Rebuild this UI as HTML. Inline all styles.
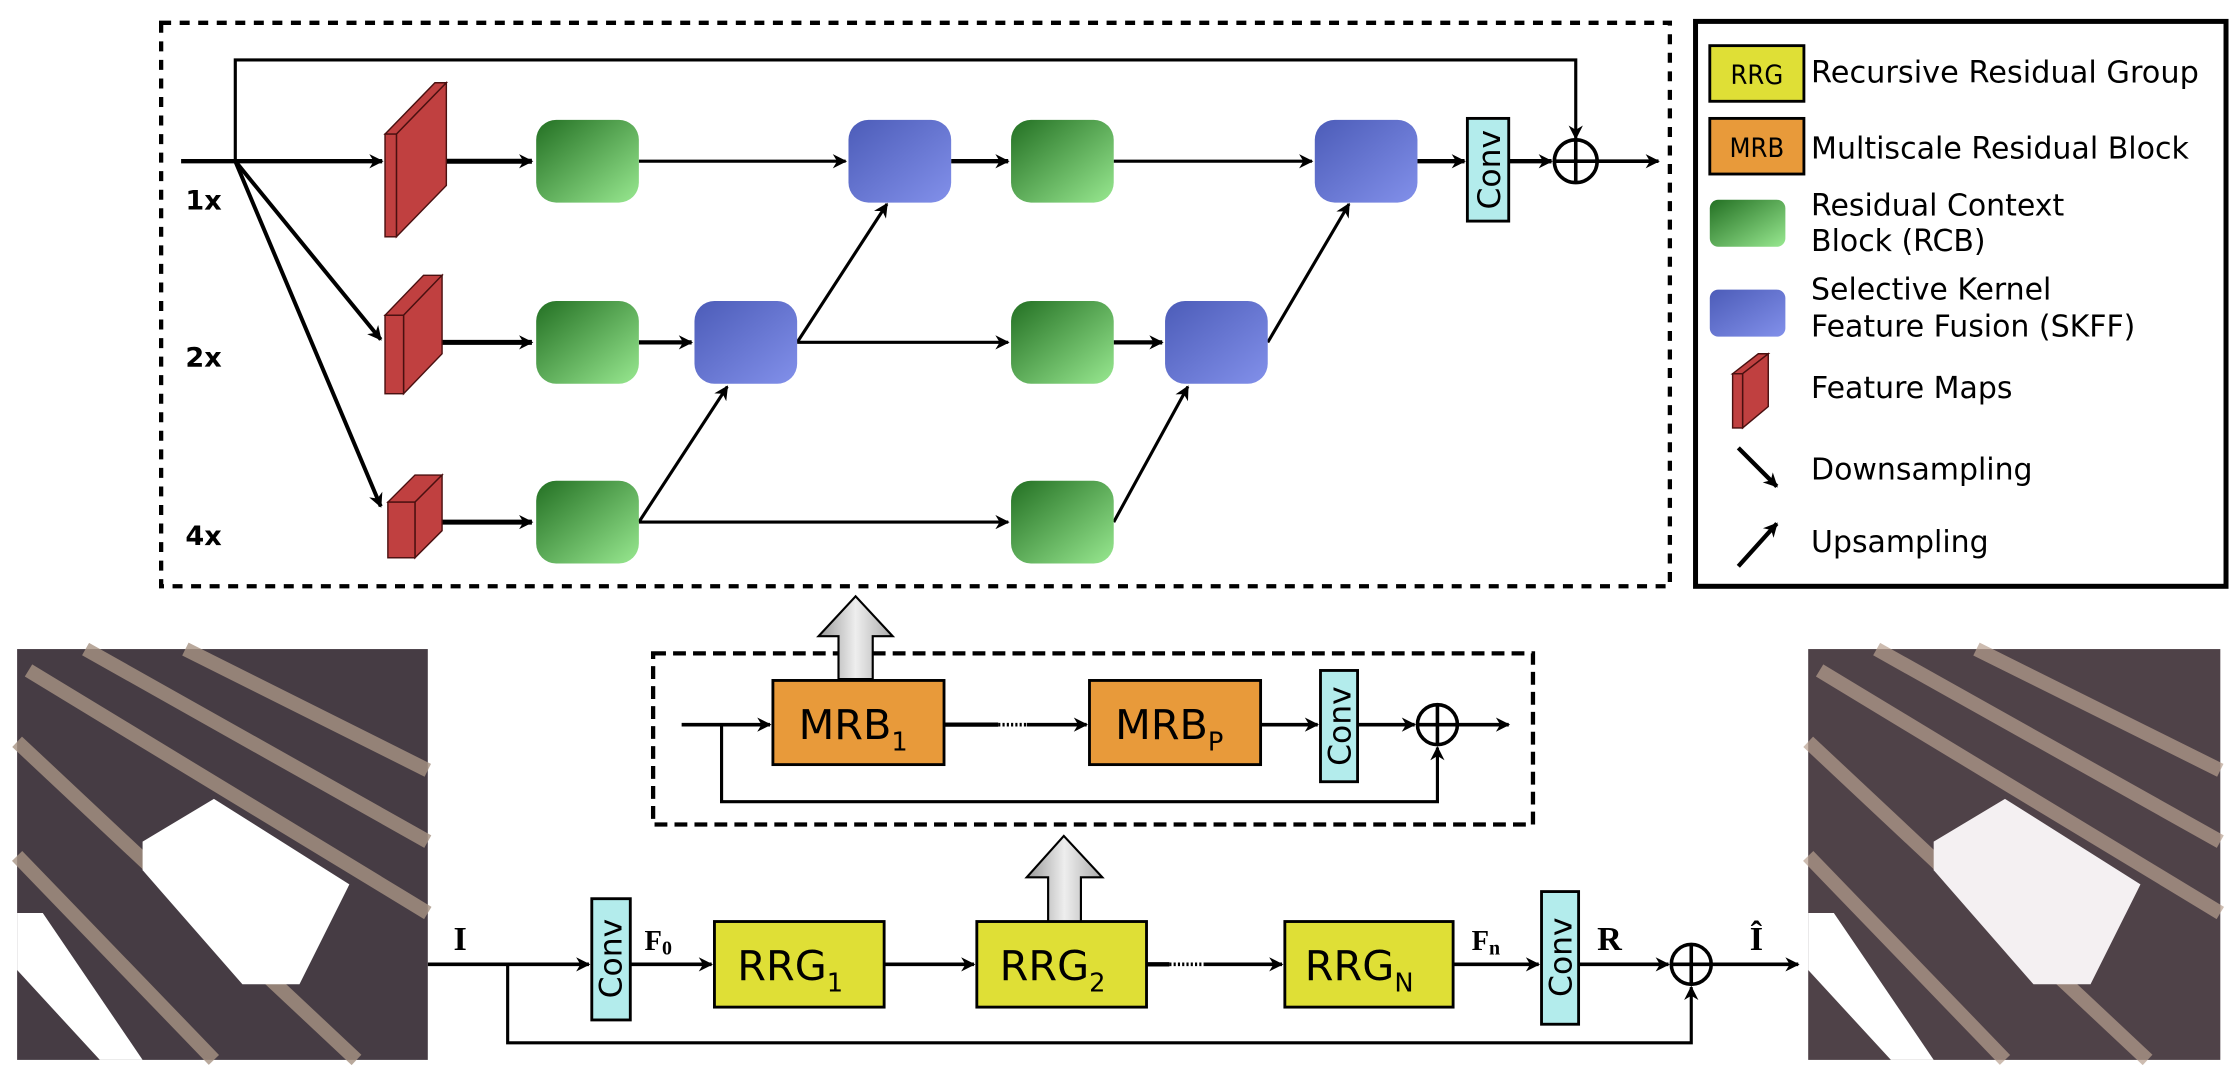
<!DOCTYPE html>
<html><head><meta charset="utf-8"><style>html,body{margin:0;padding:0;background:#fff}svg{display:block}</style></head><body>
<svg width="2236" height="1087" viewBox="0 0 1568 762" preserveAspectRatio="none" xmlns="http://www.w3.org/2000/svg" font-family="'DejaVu Sans','Liberation Sans',sans-serif">
<defs>
<linearGradient id="g" x1="0" y1="0" x2="1" y2="1"><stop offset="0" stop-color="#237023"/><stop offset="1" stop-color="#98e890"/></linearGradient>
<linearGradient id="b" x1="0" y1="0" x2="1" y2="1"><stop offset="0" stop-color="#4c5cb8"/><stop offset="1" stop-color="#8290ea"/></linearGradient>
<linearGradient id="ga" x1="0" y1="0" x2="1" y2="0"><stop offset="0" stop-color="#999"/><stop offset="0.5" stop-color="#eee"/><stop offset="1" stop-color="#aaa"/></linearGradient>
<marker id="a" viewBox="0 0 10 10" refX="9" refY="5" markerWidth="11" markerHeight="10" markerUnits="userSpaceOnUse" orient="auto"><path d="M0,0 L10,5 L0,10 L3,5z" fill="#000"/></marker>
<g id="rc"><rect width="72" height="58" rx="14" fill="url(#g)"/></g>
<g id="sk"><rect width="72" height="58" rx="14" fill="url(#b)"/></g>
</defs>
<rect x="113" y="16" width="1058" height="395" fill="none" stroke="#000" stroke-width="3" stroke-dasharray="7,6"/>
<g stroke="#000" fill="none" stroke-width="2.2">
<polyline points="165,113 165,42 1105,42 1105,97" marker-end="url(#a)"/>
<line x1="127" y1="113" x2="268" y2="113" stroke-width="3" marker-end="url(#a)"/>
<line x1="165" y1="113" x2="267" y2="238" stroke-width="2.8" marker-end="url(#a)"/>
<line x1="165" y1="113" x2="267" y2="355" stroke-width="2.8" marker-end="url(#a)"/>
<line x1="297" y1="113" x2="373" y2="113" stroke-width="3.5" marker-end="url(#a)"/>
<line x1="297" y1="240" x2="373" y2="240" stroke-width="3.5" marker-end="url(#a)"/>
<line x1="297" y1="366" x2="373" y2="366" stroke-width="3.5" marker-end="url(#a)"/>
<line x1="448" y1="113" x2="593" y2="113" marker-end="url(#a)"/>
<line x1="667" y1="113" x2="707" y2="113" stroke-width="3" marker-end="url(#a)"/>
<line x1="781" y1="113" x2="920" y2="113" marker-end="url(#a)"/>
<line x1="994" y1="113" x2="1027" y2="113" stroke-width="3" marker-end="url(#a)"/>
<line x1="1058" y1="113" x2="1088" y2="113" stroke-width="3" marker-end="url(#a)"/>
<line x1="1120" y1="113" x2="1163" y2="113" stroke-width="2.5" marker-end="url(#a)"/>
<line x1="448" y1="240" x2="485" y2="240" stroke-width="3" marker-end="url(#a)"/>
<line x1="559" y1="240" x2="707" y2="240" marker-end="url(#a)"/>
<line x1="781" y1="240" x2="815" y2="240" stroke-width="3" marker-end="url(#a)"/>
<line x1="448" y1="366" x2="707" y2="366" marker-end="url(#a)"/>
<line x1="559" y1="240" x2="622" y2="143" marker-end="url(#a)"/>
<line x1="448" y1="366" x2="510" y2="271" marker-end="url(#a)"/>
<line x1="781" y1="366" x2="833" y2="271" marker-end="url(#a)"/>
<line x1="889" y1="240" x2="946" y2="143" marker-end="url(#a)"/>
</g>
<g fill="#c04040" stroke="#4a1010" stroke-width="1">
<polygon points="270,94 278,94 313,58 305,58"/><polygon points="278,94 313,58 313,130 278,166"/><rect x="270" y="94" width="8" height="72"/>
<polygon points="270,221 283,221 310,193 297,193"/><polygon points="283,221 310,193 310,248 283,276"/><rect x="270" y="221" width="13" height="55"/>
<polygon points="272,352 291,352 310,333 291,333"/><polygon points="291,352 310,333 310,372 291,391"/><rect x="272" y="352" width="19" height="39"/>
</g>
<use href="#rc" x="376" y="84"/><use href="#rc" x="376" y="211"/><use href="#rc" x="376" y="337"/>
<use href="#rc" x="709" y="84"/><use href="#rc" x="709" y="211"/><use href="#rc" x="709" y="337"/>
<use href="#sk" x="595" y="84"/><use href="#sk" x="487" y="211"/><use href="#sk" x="922" y="84"/><use href="#sk" x="817" y="211"/>
<rect x="1029" y="83" width="29" height="72" fill="#b3ecec" stroke="#000" stroke-width="2"/>
<text transform="translate(1052,119) rotate(-90)" font-size="22" text-anchor="middle">Conv</text>
<circle cx="1105" cy="113" r="15" fill="#fff" stroke="#000" stroke-width="2.5"/><path d="M1090,113h30M1105,98v30" stroke="#000" stroke-width="2.5"/>
<g font-size="19" font-weight="bold"><text x="130" y="147">1x</text><text x="130" y="257">2x</text><text x="130" y="382">4x</text></g>
<rect x="1189" y="15" width="372" height="396" fill="none" stroke="#000" stroke-width="3.5"/>
<rect x="1199" y="32" width="66" height="39" fill="#dfdf36" stroke="#000" stroke-width="2"/><text x="1232" y="59" font-size="19" text-anchor="middle" font-family="'DejaVu Sans Condensed','DejaVu Sans',sans-serif">RRG</text>
<rect x="1199" y="83" width="66" height="39" fill="#e89a3a" stroke="#000" stroke-width="2"/><text x="1232" y="110" font-size="19" text-anchor="middle" font-family="'DejaVu Sans Condensed','DejaVu Sans',sans-serif">MRB</text>
<rect x="1199" y="140" width="53" height="33" rx="6" fill="url(#g)"/>
<rect x="1199" y="203" width="53" height="33" rx="6" fill="url(#b)"/>
<g fill="#c04040" stroke="#4a1010" stroke-width="1"><polygon points="1215,262 1222,262 1240,248 1233,248"/><polygon points="1222,262 1240,248 1240,285 1222,300"/><rect x="1215" y="262" width="7" height="38"/></g>
<g stroke="#000" stroke-width="3"><line x1="1219" y1="314" x2="1246" y2="341" marker-end="url(#a)"/><line x1="1219" y1="397" x2="1246" y2="367" marker-end="url(#a)"/></g>
<g font-size="21"><text x="1270" y="58" textLength="272" lengthAdjust="spacingAndGlyphs">Recursive Residual Group</text><text x="1270" y="111" textLength="265" lengthAdjust="spacingAndGlyphs">Multiscale Residual Block</text><text x="1270" y="151">Residual Context</text><text x="1270" y="176">Block (RCB)</text><text x="1270" y="210">Selective Kernel</text><text x="1270" y="236">Feature Fusion (SKFF)</text><text x="1270" y="279">Feature Maps</text><text x="1270" y="336">Downsampling</text><text x="1270" y="387">Upsampling</text></g>
<rect x="458" y="458" width="617" height="120" fill="none" stroke="#000" stroke-width="3" stroke-dasharray="9,5"/>
<path d="M588,476 V446 H574 L600,418 L626,446 H612 V476z" fill="url(#ga)" stroke="#000" stroke-width="1.5"/>
<path d="M735,646 V615 H720 L746,586 L773,615 H758 V646z" fill="url(#ga)" stroke="#000" stroke-width="1.5"/>
<g stroke="#000" fill="none" stroke-width="2.5">
<line x1="478" y1="508" x2="540" y2="508" marker-end="url(#a)"/>
<polyline points="506,508 506,562 1008,562 1008,524" stroke-width="2.2" marker-end="url(#a)"/>
<line x1="662" y1="508" x2="700" y2="508" stroke-width="3"/><line x1="700" y1="508" x2="720" y2="508" stroke-dasharray="1.5,1.5"/>
<line x1="720" y1="508" x2="762" y2="508" marker-end="url(#a)"/>
<line x1="884" y1="508" x2="924" y2="508" marker-end="url(#a)"/>
<line x1="952" y1="508" x2="992" y2="508" marker-end="url(#a)"/>
<line x1="1022" y1="508" x2="1058" y2="508" marker-end="url(#a)"/>
</g>
<rect x="542" y="477" width="120" height="59" fill="#e89a3a" stroke="#000" stroke-width="2"/>
<rect x="764" y="477" width="120" height="59" fill="#e89a3a" stroke="#000" stroke-width="2"/>
<text x="560" y="518" font-size="29">MRB<tspan font-size="18" dy="8">1</tspan></text>
<text x="782" y="518" font-size="29">MRB<tspan font-size="18" dy="8">P</tspan></text>
<rect x="926" y="470" width="26" height="78" fill="#b3ecec" stroke="#000" stroke-width="2"/>
<text transform="translate(947,509) rotate(-90)" font-size="22" text-anchor="middle">Conv</text>
<circle cx="1008" cy="508" r="14" fill="#fff" stroke="#000" stroke-width="2.5"/><path d="M994,508h28M1008,494v28" stroke="#000" stroke-width="2.5"/>
<g stroke="#000" fill="none" stroke-width="2.5">
<line x1="300" y1="676" x2="413" y2="676" marker-end="url(#a)"/>
<polyline points="356,676 356,731 1186,731 1186,692" stroke-width="2.2" marker-end="url(#a)"/>
<line x1="442" y1="676" x2="499" y2="676" marker-end="url(#a)"/>
<line x1="620" y1="676" x2="683" y2="676" marker-end="url(#a)"/>
<line x1="804" y1="676" x2="820" y2="676" stroke-width="3"/><line x1="820" y1="676" x2="845" y2="676" stroke-dasharray="1.5,1.5"/>
<line x1="845" y1="676" x2="899" y2="676" marker-end="url(#a)"/>
<line x1="1019" y1="676" x2="1079" y2="676" marker-end="url(#a)"/>
<line x1="1107" y1="676" x2="1170" y2="676" marker-end="url(#a)"/>
<line x1="1200" y1="676" x2="1261" y2="676" marker-end="url(#a)"/>
</g>
<rect x="415" y="630" width="27" height="85" fill="#b3ecec" stroke="#000" stroke-width="2"/>
<text transform="translate(436,672) rotate(-90)" font-size="22" text-anchor="middle">Conv</text>
<rect x="1081" y="625" width="26" height="93" fill="#b3ecec" stroke="#000" stroke-width="2"/>
<text transform="translate(1102,671) rotate(-90)" font-size="22" text-anchor="middle">Conv</text>
<rect x="501" y="646" width="119" height="60" fill="#dfdf36" stroke="#000" stroke-width="2"/>
<rect x="685" y="646" width="119" height="60" fill="#dfdf36" stroke="#000" stroke-width="2"/>
<rect x="901" y="646" width="118" height="60" fill="#dfdf36" stroke="#000" stroke-width="2"/>
<text x="517" y="687" font-size="29">RRG<tspan font-size="18" dy="8">1</tspan></text>
<text x="701" y="687" font-size="29">RRG<tspan font-size="18" dy="8">2</tspan></text>
<text x="915" y="687" font-size="29">RRG<tspan font-size="18" dy="8">N</tspan></text>
<circle cx="1186" cy="676" r="14" fill="#fff" stroke="#000" stroke-width="2.5"/><path d="M1172,676h28M1186,662v28" stroke="#000" stroke-width="2.5"/>
<g font-family="'Liberation Serif',serif" font-weight="bold" font-size="24">
<text x="318" y="666">I</text><text x="452" y="666" font-size="20">F<tspan font-size="14" dy="3">0</tspan></text>
<text x="1032" y="666" font-size="20">F<tspan font-size="14" dy="3">n</tspan></text><text x="1120" y="666">R</text><text x="1227" y="666">Î</text></g>
<g>
<rect x="12" y="455" width="288" height="288" fill="#463c44"/>
<g stroke="#a89484" stroke-width="10" opacity="0.8">
<line x1="20" y1="470" x2="300" y2="640"/><line x1="60" y1="455" x2="300" y2="590"/><line x1="12" y1="520" x2="250" y2="743"/><line x1="12" y1="600" x2="150" y2="743"/><line x1="130" y1="455" x2="300" y2="540"/></g>
<polygon points="100,590 150,560 245,620 210,690 170,690 100,610" fill="#fff"/>
<polygon points="12,640 30,640 100,743 70,743 12,680" fill="#fff"/>
<rect x="1268" y="455" width="289" height="288" fill="#4f4248"/>
<g stroke="#b8a090" stroke-width="10" opacity="0.7">
<line x1="1276" y1="470" x2="1557" y2="640"/><line x1="1316" y1="455" x2="1557" y2="590"/><line x1="1268" y1="520" x2="1506" y2="743"/><line x1="1268" y1="600" x2="1406" y2="743"/><line x1="1386" y1="455" x2="1557" y2="540"/></g>
<polygon points="1356,590 1406,560 1501,620 1466,690 1426,690 1356,610" fill="#f4f0f2"/>
<polygon points="1268,640 1286,640 1356,743 1326,743 1268,680" fill="#fff"/>
</g>
</svg>
</body></html>
